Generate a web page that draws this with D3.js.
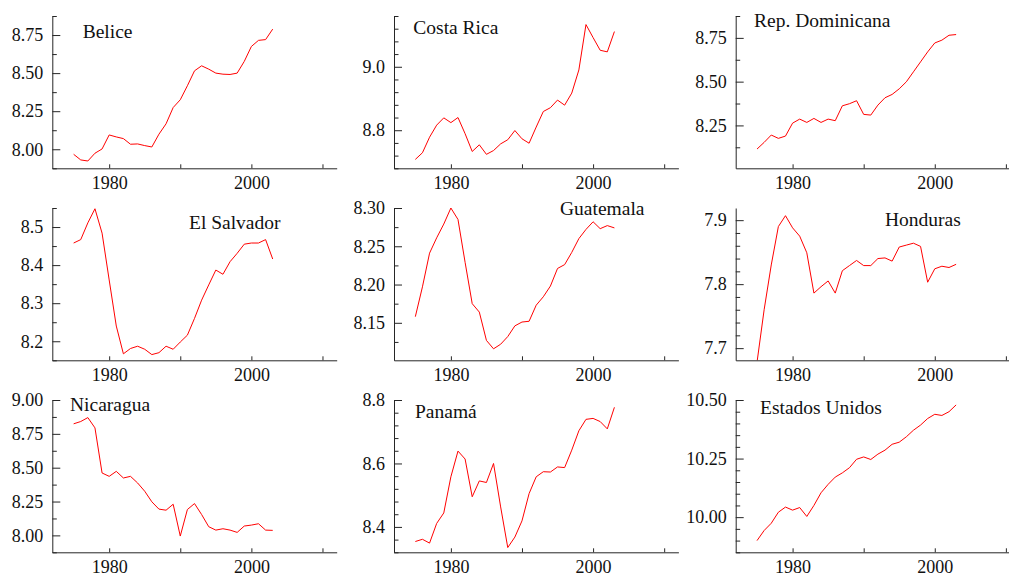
<!DOCTYPE html>
<html>
<head>
<meta charset="utf-8">
<script src="https://cdn.jsdelivr.net/npm/d3@7"></script>
<style>
    body { margin: 0; background: #fff; }
    svg { display: block; }
</style>
</head>
<body>
<div id="chart"></div>
<script>
    const years = [1975, 1976, 1977, 1978, 1979, 1980, 1981, 1982, 1983, 1984,
        1985, 1986, 1987, 1988, 1989, 1990, 1991, 1992, 1993, 1994,
        1995, 1996, 1997, 1998, 1999, 2000, 2001, 2002, 2003];

    const countries = ['Belice', 'Costa Rica', 'Rep. Dominicana', 'El Salvador', 'Guatemala',
        'Honduras', 'Nicaragua', 'Panamá', 'Estados Unidos'];

    const belice = [7.967, 7.930, 7.923, 7.974, 8.002, 8.094, 8.081, 8.070, 8.033, 8.035,
        8.024, 8.015, 8.099, 8.167, 8.274, 8.325, 8.417, 8.515, 8.548, 8.526,
        8.500, 8.493, 8.491, 8.500, 8.577, 8.675, 8.715, 8.720, 8.789];
    const costaRica = [8.708, 8.729, 8.778, 8.816, 8.839, 8.824, 8.840, 8.789, 8.733, 8.754,
        8.724, 8.736, 8.757, 8.770, 8.799, 8.773, 8.759, 8.810, 8.859, 8.871,
        8.895, 8.879, 8.917, 8.990, 9.133, 9.092, 9.052, 9.047, 9.111];
    const repDominicana = [8.115, 8.153, 8.195, 8.176, 8.189, 8.263, 8.286, 8.267, 8.290, 8.267,
        8.286, 8.277, 8.362, 8.374, 8.391, 8.313, 8.309, 8.366, 8.408, 8.427,
        8.459, 8.499, 8.556, 8.613, 8.670, 8.721, 8.737, 8.765, 8.769];
    const elSalvador = [8.458, 8.467, 8.511, 8.548, 8.484, 8.361, 8.240, 8.167, 8.181, 8.187,
        8.179, 8.165, 8.170, 8.187, 8.179, 8.198, 8.216, 8.260, 8.308, 8.348,
        8.387, 8.376, 8.409, 8.431, 8.455, 8.458, 8.458, 8.467, 8.416];
    const guatemala = [8.158, 8.197, 8.241, 8.261, 8.279, 8.300, 8.285, 8.229, 8.175, 8.164,
        8.127, 8.116, 8.122, 8.132, 8.146, 8.151, 8.152, 8.173, 8.184, 8.198,
        8.221, 8.226, 8.242, 8.260, 8.272, 8.282, 8.273, 8.277, 8.274];
    const honduras = [7.678, 7.760, 7.830, 7.890, 7.907, 7.888, 7.875, 7.849, 7.786, 7.796,
        7.805, 7.786, 7.821, 7.829, 7.837, 7.829, 7.829, 7.840, 7.841, 7.836,
        7.858, 7.861, 7.864, 7.859, 7.803, 7.824, 7.828, 7.826, 7.831];
    const nicaragua = [8.824, 8.841, 8.870, 8.794, 8.461, 8.436, 8.473, 8.424, 8.436, 8.387,
        8.326, 8.248, 8.194, 8.186, 8.230, 7.995, 8.191, 8.235, 8.154, 8.064,
        8.039, 8.049, 8.039, 8.022, 8.069, 8.076, 8.086, 8.039, 8.037];
    const panama = [8.354, 8.361, 8.349, 8.411, 8.444, 8.558, 8.639, 8.614, 8.495, 8.545,
        8.540, 8.600, 8.463, 8.335, 8.368, 8.419, 8.505, 8.558, 8.574, 8.573,
        8.589, 8.587, 8.642, 8.703, 8.739, 8.742, 8.732, 8.709, 8.777];
    const estadosUnidos = [9.900, 9.943, 9.974, 10.021, 10.043, 10.030, 10.041, 10.003, 10.050, 10.104,
        10.140, 10.171, 10.189, 10.211, 10.247, 10.257, 10.246, 10.269, 10.286, 10.311,
        10.320, 10.343, 10.371, 10.393, 10.421, 10.439, 10.434, 10.450, 10.479];

    const series = [belice, costaRica, repDominicana, elSalvador, guatemala,
        honduras, nicaragua, panama, estadosUnidos];

    // y axis ranges and ticks per panel: [min, max], major step, minor step, label decimals
    const yDomains = [[7.875, 8.875], [8.68, 9.16], [8.005, 8.875], [8.15, 8.55], [8.101, 8.30],
        [7.681, 7.919], [7.875, 9.0], [8.32, 8.8], [9.85, 10.5]];
    const yMajor = [0.25, 0.2, 0.25, 0.1, 0.05, 0.1, 0.25, 0.2, 0.25];
    const yMinor = [0.125, 0.04, 0.125, 0.05, 0.025, 0.02, 0.125, 0.04, 0.05];
    const yDecimals = [2, 1, 2, 1, 2, 1, 2, 1, 2];

    const xDomain = [1972, 2012];
    const xTicks = [1980, 1990, 2000, 2010];
    const xLabels = [1980, 2000];

    // layout
    const layout = {
        width: 1009,
        height: 573,
        colX: [52.3, 394, 735.7],
        rowBottom: [168.3, 360.3, 552.3],
        plotWidth: 284.4,
        plotHeight: 152.3
    };
    // title offsets from the top-left corner of each plot
    const titleOffsets = [[30.4, 22.3], [19.3, 18], [18.3, 11.3], [136.7, 21], [166, 7],
        [149.3, 17.7], [17.7, 10.7], [21, 18.3], [24.3, 14]];

    const font = '"Liberation Serif", "Times New Roman", serif';
    const axisColor = '#262626';
    const textColor = '#111';

    function tickRange(domain, step) {
        const eps = step * 1e-3;
        const start = Math.ceil((domain[0] - eps) / step);
        const end = Math.floor((domain[1] + eps) / step);
        return d3.range(start, end + 1).map(i => +(i * step).toFixed(6));
    }

    function drawPanel(svg, i) {
        const col = i % 3;
        const row = Math.floor(i / 3);
        const w = layout.plotWidth;
        const h = layout.plotHeight;
        const left = layout.colX[col];
        const top = layout.rowBottom[row] - h;

        const g = svg.append('g')
            .attr('transform', `translate(${left},${top})`);

        //scales
        const x = d3.scaleLinear().domain(xDomain).range([0, w]);
        const y = d3.scaleLinear().domain(yDomains[i]).range([h, 0]);

        //clip
        g.append('clipPath')
            .attr('id', `clip-${i}`)
            .append('rect')
            .attr('width', w)
            .attr('height', h);

        //line
        const line = d3.line()
            .x((d, j) => x(years[j]))
            .y(d => y(d));
        g.append('path')
            .datum(series[i])
            .attr('d', line)
            .attr('fill', 'none')
            .attr('stroke', '#ff0000')
            .attr('stroke-width', 1)
            .attr('clip-path', `url(#clip-${i})`);

        //minor y ticks
        const majors = tickRange(yDomains[i], yMajor[i]);
        const minors = tickRange(yDomains[i], yMinor[i])
            .filter(v => !majors.some(m => Math.abs(m - v) < 1e-6));
        g.append('g')
            .call(d3.axisLeft(y).tickValues(minors).tickSize(-4.5).tickSizeOuter(0).tickFormat(''))
            .call(a => a.select('.domain').remove());

        //major y ticks + labels
        const yAxis = g.append('g')
            .call(d3.axisLeft(y)
                .tickValues(majors)
                .tickSize(-8)
                .tickSizeOuter(0)
                .tickPadding(9)
                .tickFormat(d3.format(`.${yDecimals[i]}f`)));

        //x axis
        const xAxis = g.append('g')
            .attr('transform', `translate(0,${h})`)
            .call(d3.axisBottom(x)
                .tickValues(xTicks)
                .tickSize(-4)
                .tickSizeOuter(0)
                .tickFormat(d => xLabels.includes(d) ? d : ''));
        xAxis.selectAll('text')
            .attr('y', 21)
            .attr('dy', null);

        [yAxis, xAxis].forEach(a => {
            a.attr('font-family', font)
                .attr('font-size', 18);
            a.selectAll('text').attr('fill', textColor);
        });
        g.selectAll('.domain, .tick line')
            .attr('stroke', axisColor)
            .attr('stroke-width', 1);

        //title
        g.append('text')
            .attr('x', titleOffsets[i][0])
            .attr('y', titleOffsets[i][1])
            .attr('font-family', font)
            .attr('font-size', 19.5)
            .attr('fill', textColor)
            .text(countries[i]);
    }

    const svg = d3.select('#chart')
        .append('svg')
        .attr('width', layout.width)
        .attr('height', layout.height);

    countries.forEach((c, i) => drawPanel(svg, i));
</script>
</body>
</html>
